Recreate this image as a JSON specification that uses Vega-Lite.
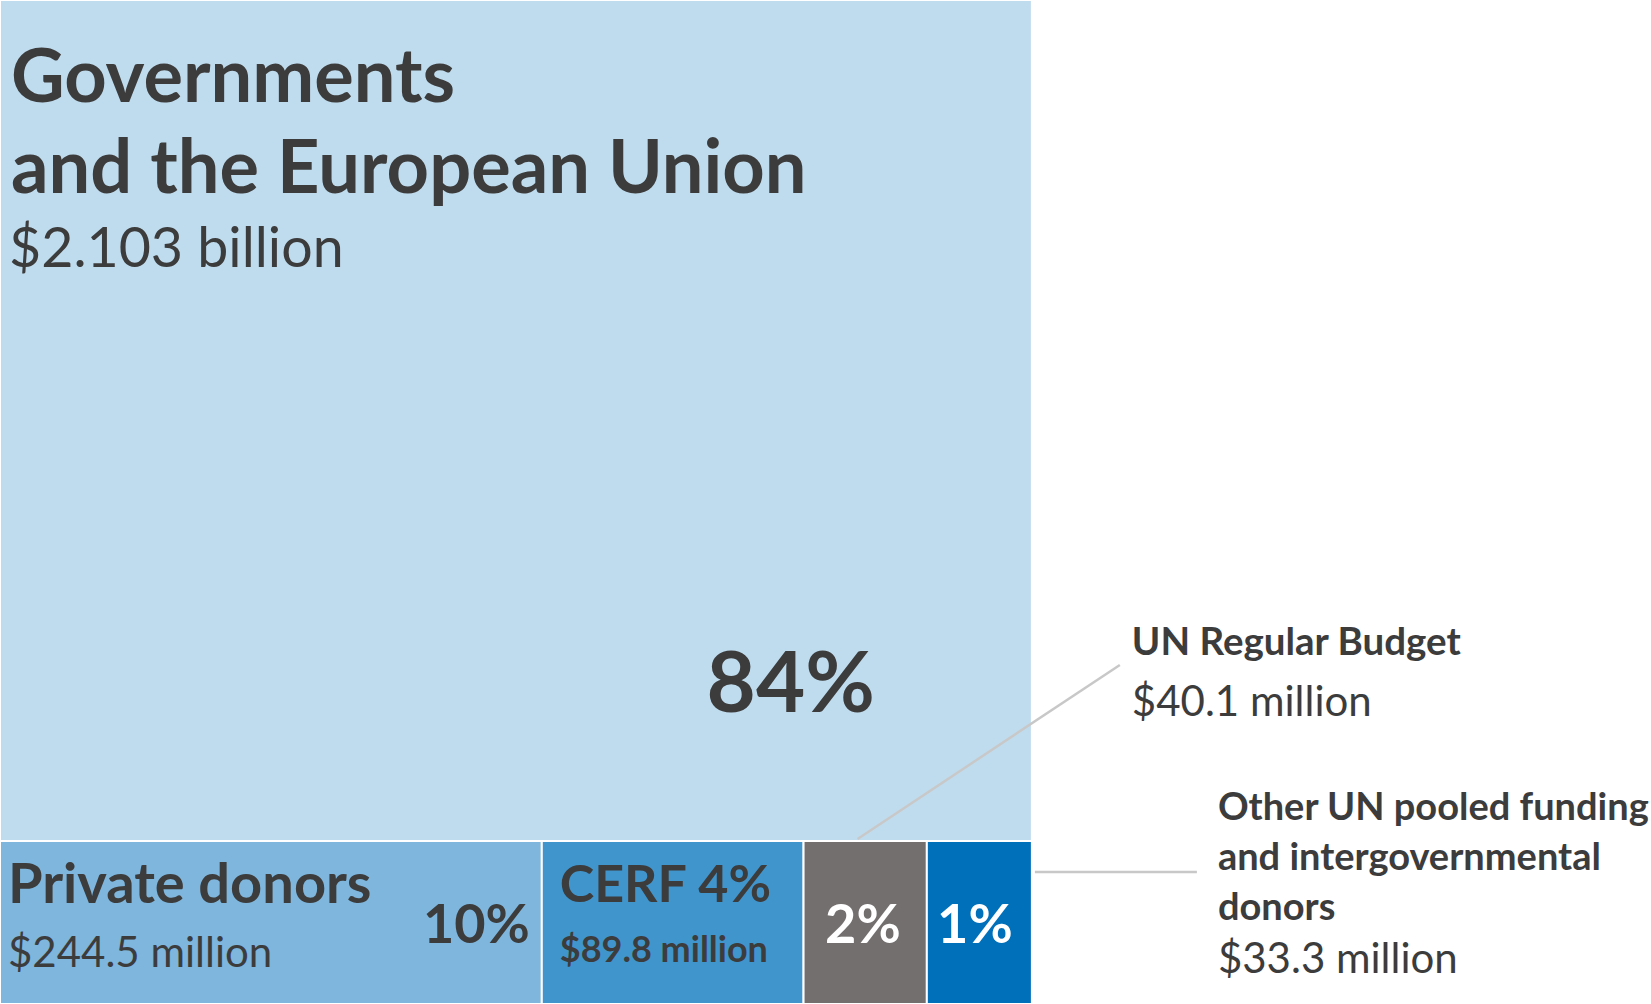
{
  "$schema": "https://vega.github.io/schema/vega-lite/v6.json",
  "width": 1651,
  "height": 1004,
  "padding": 0,
  "autosize": {"type": "none"},
  "background": "white",
  "config": {"view": {"stroke": null}, "text": {"font": "Lato", "color": "#3c3c3c"}},
  "data": {
    "values": [
      {"id": "gov", "name": "Governments\nand the European Union", "amount": "$2.103 billion", "pct": "84%", "value": 2103, "row": 1, "order": 1},
      {"id": "private", "name": "Private donors", "amount": "$244.5 million", "pct": "10%", "value": 244.5, "row": 2, "order": 2},
      {"id": "cerf", "name": "CERF", "amount": "$89.8 million", "pct": "4%", "value": 89.8, "row": 2, "order": 3},
      {"id": "unrb", "name": "UN Regular Budget", "amount": "$40.1 million", "pct": "2%", "value": 40.1, "row": 2, "order": 4},
      {"id": "other", "name": "Other UN pooled funding\nand intergovernmental\ndonors", "amount": "$33.3 million", "pct": "1%", "value": 33.3, "row": 2, "order": 5}
    ]
  },
  "transform": [
    {"stack": "value", "groupby": ["row"], "sort": [{"field": "order"}], "offset": "normalize", "as": ["x0", "x1"]},
    {"stack": "value", "groupby": [], "sort": [{"field": "order"}], "offset": "normalize", "as": ["s0", "s1"]},
    {"joinaggregate": [{"op": "min", "field": "s0", "as": "y0"}, {"op": "max", "field": "s1", "as": "y1"}], "groupby": ["row"]}
  ],
  "layer": [
    {
      "mark": {"type": "rect", "stroke": "white", "strokeWidth": 2},
      "encoding": {
        "x": {"field": "x0", "type": "quantitative", "axis": null, "scale": {"type": "pow", "exponent": 1.26, "domain": [0, 1.4521], "nice": false, "zero": false}},
        "x2": {"field": "x1"},
        "y": {"field": "y0", "type": "quantitative", "axis": null, "scale": {"domain": [0, 1], "reverse": true, "nice": false, "zero": false}},
        "y2": {"field": "y1"},
        "color": {"field": "id", "type": "nominal", "legend": null, "scale": {"domain": ["gov", "private", "cerf", "unrb", "other"], "range": ["#bfdcee", "#7eb6dd", "#4195cd", "#736f6f", "#0070bb"]}}
      }
    },
    {
      "transform": [{"filter": "datum.id == 'gov'"}],
      "mark": {"type": "text", "align": "left", "baseline": "alphabetic", "dx": 11, "dy": 102, "fontSize": 74, "fontWeight": "bold", "lineBreak": "\n", "lineHeight": 91},
      "encoding": {
        "x": {"field": "x0", "type": "quantitative", "axis": null, "scale": {"type": "pow", "exponent": 1.26, "domain": [0, 1.4521], "nice": false, "zero": false}},
        "y": {"field": "y0", "type": "quantitative", "axis": null, "scale": {"domain": [0, 1], "reverse": true, "nice": false, "zero": false}},
        "text": {"field": "name"}
      }
    },
    {
      "transform": [{"filter": "datum.id == 'gov'"}],
      "mark": {"type": "text", "align": "left", "baseline": "alphabetic", "dx": 9, "dy": 267, "fontSize": 55.5, "fontWeight": "normal"},
      "encoding": {
        "x": {"field": "x0", "type": "quantitative", "axis": null, "scale": {"type": "pow", "exponent": 1.26, "domain": [0, 1.4521], "nice": false, "zero": false}},
        "y": {"field": "y0", "type": "quantitative", "axis": null, "scale": {"domain": [0, 1], "reverse": true, "nice": false, "zero": false}},
        "text": {"field": "amount"}
      }
    },
    {
      "transform": [{"filter": "datum.id == 'gov'"}],
      "mark": {"type": "text", "align": "right", "baseline": "alphabetic", "dx": -157, "dy": 712, "fontSize": 85, "fontWeight": "bold"},
      "encoding": {
        "x": {"field": "x1", "type": "quantitative", "axis": null, "scale": {"type": "pow", "exponent": 1.26, "domain": [0, 1.4521], "nice": false, "zero": false}},
        "y": {"field": "y0", "type": "quantitative", "axis": null, "scale": {"domain": [0, 1], "reverse": true, "nice": false, "zero": false}},
        "text": {"field": "pct"}
      }
    },
    {
      "transform": [{"filter": "datum.id == 'private'"}],
      "mark": {"type": "text", "align": "left", "baseline": "alphabetic", "dx": 8, "dy": 62, "fontSize": 56, "fontWeight": "bold"},
      "encoding": {
        "x": {"field": "x0", "type": "quantitative", "axis": null, "scale": {"type": "pow", "exponent": 1.26, "domain": [0, 1.4521], "nice": false, "zero": false}},
        "y": {"field": "y0", "type": "quantitative", "axis": null, "scale": {"domain": [0, 1], "reverse": true, "nice": false, "zero": false}},
        "text": {"field": "name"}
      }
    },
    {
      "transform": [{"filter": "datum.id == 'private'"}],
      "mark": {"type": "text", "align": "left", "baseline": "alphabetic", "dx": 8, "dy": 126, "fontSize": 42, "fontWeight": "normal"},
      "encoding": {
        "x": {"field": "x0", "type": "quantitative", "axis": null, "scale": {"type": "pow", "exponent": 1.26, "domain": [0, 1.4521], "nice": false, "zero": false}},
        "y": {"field": "y0", "type": "quantitative", "axis": null, "scale": {"domain": [0, 1], "reverse": true, "nice": false, "zero": false}},
        "text": {"field": "amount"}
      }
    },
    {
      "transform": [{"filter": "datum.id == 'private'"}],
      "mark": {"type": "text", "align": "right", "baseline": "alphabetic", "dx": -12, "dy": 102, "fontSize": 54, "fontWeight": "bold"},
      "encoding": {
        "x": {"field": "x1", "type": "quantitative", "axis": null, "scale": {"type": "pow", "exponent": 1.26, "domain": [0, 1.4521], "nice": false, "zero": false}},
        "y": {"field": "y0", "type": "quantitative", "axis": null, "scale": {"domain": [0, 1], "reverse": true, "nice": false, "zero": false}},
        "text": {"field": "pct"}
      }
    },
    {
      "transform": [{"filter": "datum.id == 'cerf'"}, {"calculate": "datum.name + ' ' + datum.pct", "as": "label"}],
      "mark": {"type": "text", "align": "left", "baseline": "alphabetic", "dx": 18, "dy": 61, "fontSize": 52, "fontWeight": "bold"},
      "encoding": {
        "x": {"field": "x0", "type": "quantitative", "axis": null, "scale": {"type": "pow", "exponent": 1.26, "domain": [0, 1.4521], "nice": false, "zero": false}},
        "y": {"field": "y0", "type": "quantitative", "axis": null, "scale": {"domain": [0, 1], "reverse": true, "nice": false, "zero": false}},
        "text": {"field": "label"}
      }
    },
    {
      "transform": [{"filter": "datum.id == 'cerf'"}],
      "mark": {"type": "text", "align": "left", "baseline": "alphabetic", "dx": 18, "dy": 121, "fontSize": 36, "fontWeight": "bold"},
      "encoding": {
        "x": {"field": "x0", "type": "quantitative", "axis": null, "scale": {"type": "pow", "exponent": 1.26, "domain": [0, 1.4521], "nice": false, "zero": false}},
        "y": {"field": "y0", "type": "quantitative", "axis": null, "scale": {"domain": [0, 1], "reverse": true, "nice": false, "zero": false}},
        "text": {"field": "amount"}
      }
    },
    {
      "transform": [{"filter": "datum.id == 'unrb'"}],
      "mark": {"type": "text", "align": "center", "baseline": "alphabetic", "dx": -64, "dy": 102, "fontSize": 54, "fontWeight": "bold", "color": "white"},
      "encoding": {
        "x": {"field": "x1", "type": "quantitative", "axis": null, "scale": {"type": "pow", "exponent": 1.26, "domain": [0, 1.4521], "nice": false, "zero": false}},
        "y": {"field": "y0", "type": "quantitative", "axis": null, "scale": {"domain": [0, 1], "reverse": true, "nice": false, "zero": false}},
        "text": {"field": "pct"}
      }
    },
    {
      "transform": [{"filter": "datum.id == 'other'"}],
      "mark": {"type": "text", "align": "center", "baseline": "alphabetic", "dx": -57, "dy": 102, "fontSize": 54, "fontWeight": "bold", "color": "white"},
      "encoding": {
        "x": {"field": "x1", "type": "quantitative", "axis": null, "scale": {"type": "pow", "exponent": 1.26, "domain": [0, 1.4521], "nice": false, "zero": false}},
        "y": {"field": "y0", "type": "quantitative", "axis": null, "scale": {"domain": [0, 1], "reverse": true, "nice": false, "zero": false}},
        "text": {"field": "pct"}
      }
    },
    {
      "transform": [{"filter": "datum.id == 'unrb'"}],
      "mark": {"type": "rule", "color": "#c8c8c8", "strokeWidth": 2.5, "xOffset": 54, "yOffset": -2, "x2Offset": 193, "y2Offset": -176},
      "encoding": {
        "x": {"field": "x0", "type": "quantitative", "axis": null, "scale": {"type": "pow", "exponent": 1.26, "domain": [0, 1.4521], "nice": false, "zero": false}},
        "x2": {"field": "x1"},
        "y": {"field": "y0", "type": "quantitative", "axis": null, "scale": {"domain": [0, 1], "reverse": true, "nice": false, "zero": false}},
        "y2": {"field": "y0"}
      }
    },
    {
      "transform": [{"filter": "datum.id == 'other'"}],
      "mark": {"type": "rule", "color": "#c8c8c8", "strokeWidth": 2.5, "xOffset": 3, "yOffset": 31, "x2Offset": 165, "y2Offset": 31},
      "encoding": {
        "x": {"field": "x1", "type": "quantitative", "axis": null, "scale": {"type": "pow", "exponent": 1.26, "domain": [0, 1.4521], "nice": false, "zero": false}},
        "x2": {"field": "x1"},
        "y": {"field": "y0", "type": "quantitative", "axis": null, "scale": {"domain": [0, 1], "reverse": true, "nice": false, "zero": false}},
        "y2": {"field": "y0"}
      }
    },
    {
      "transform": [{"filter": "datum.id == 'unrb'"}],
      "mark": {"type": "text", "align": "left", "baseline": "alphabetic", "dx": 205, "dy": -186, "fontSize": 38.5, "fontWeight": "bold"},
      "encoding": {
        "x": {"field": "x1", "type": "quantitative", "axis": null, "scale": {"type": "pow", "exponent": 1.26, "domain": [0, 1.4521], "nice": false, "zero": false}},
        "y": {"field": "y0", "type": "quantitative", "axis": null, "scale": {"domain": [0, 1], "reverse": true, "nice": false, "zero": false}},
        "text": {"field": "name"}
      }
    },
    {
      "transform": [{"filter": "datum.id == 'unrb'"}],
      "mark": {"type": "text", "align": "left", "baseline": "alphabetic", "dx": 205, "dy": -125, "fontSize": 42, "fontWeight": "normal"},
      "encoding": {
        "x": {"field": "x1", "type": "quantitative", "axis": null, "scale": {"type": "pow", "exponent": 1.26, "domain": [0, 1.4521], "nice": false, "zero": false}},
        "y": {"field": "y0", "type": "quantitative", "axis": null, "scale": {"domain": [0, 1], "reverse": true, "nice": false, "zero": false}},
        "text": {"field": "amount"}
      }
    },
    {
      "transform": [{"filter": "datum.id == 'other'"}],
      "mark": {"type": "text", "align": "left", "baseline": "alphabetic", "dx": 186, "dy": -21, "fontSize": 38, "fontWeight": "bold", "lineBreak": "\n", "lineHeight": 50},
      "encoding": {
        "x": {"field": "x1", "type": "quantitative", "axis": null, "scale": {"type": "pow", "exponent": 1.26, "domain": [0, 1.4521], "nice": false, "zero": false}},
        "y": {"field": "y0", "type": "quantitative", "axis": null, "scale": {"domain": [0, 1], "reverse": true, "nice": false, "zero": false}},
        "text": {"field": "name"}
      }
    },
    {
      "transform": [{"filter": "datum.id == 'other'"}],
      "mark": {"type": "text", "align": "left", "baseline": "alphabetic", "dx": 186, "dy": 132, "fontSize": 42, "fontWeight": "normal"},
      "encoding": {
        "x": {"field": "x1", "type": "quantitative", "axis": null, "scale": {"type": "pow", "exponent": 1.26, "domain": [0, 1.4521], "nice": false, "zero": false}},
        "y": {"field": "y0", "type": "quantitative", "axis": null, "scale": {"domain": [0, 1], "reverse": true, "nice": false, "zero": false}},
        "text": {"field": "amount"}
      }
    }
  ]
}
